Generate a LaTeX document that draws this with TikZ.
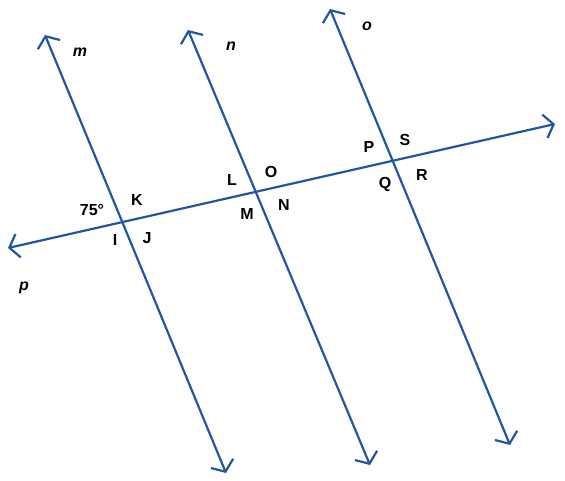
\documentclass[tikz,border=0pt]{standalone}
\usepackage{fontspec}
\setmainfont{Liberation Sans}
\usetikzlibrary{arrows.meta}
\definecolor{lineblue}{RGB}{34,86,160}
\tikzset{
  ray/.style={draw=lineblue,line width=2.2pt,line cap=round,
    {Straight Barb[length=9pt,width=24pt,line width=2.2pt]}-{Straight Barb[length=9pt,width=24pt,line width=2.2pt]}},
  lbl/.style={font=\fontsize{16}{18}\selectfont\bfseries,inner sep=0pt},
  lname/.style={font=\fontsize{16}{18}\selectfont\bfseries\itshape,inner sep=0pt}
}
\begin{document}
\begin{tikzpicture}[x=1pt,y=-1pt]
    \useasboundingbox (0,0) rectangle (565,480);
    % end points of the four lines
    \coordinate (mtop) at (45,35);
    \coordinate (mbot) at (226,473);
    \coordinate (ntop) at (188,30);
    \coordinate (nbot) at (370,465);
    \coordinate (otop) at (330,9);
    \coordinate (obot) at (510,445);
    \coordinate (pleft) at (8,248);
    \coordinate (pright) at (555,124);
    % the lines
    \draw[ray] (mtop) -- (mbot);
    \draw[ray] (ntop) -- (nbot);
    \draw[ray] (otop) -- (obot);
    \draw[ray] (pleft) -- (pright);
    % line names
    \node[lname] (mlab) at (80,52) {m};
    \node[lname] (nlab) at (231,46) {n};
    \node[lname] (olab) at (367,26) {o};
    \node[lname] (plab) at (24,288) {p};
    % angle labels
    \node[lbl] (ang) at (92,210) {75°};
    \node[lbl] (K) at (137,200) {K};
    \node[lbl] (I) at (115,240) {I};
    \node[lbl] (J) at (147,238) {J};
    \node[lbl] (L) at (232,180) {L};
    \node[lbl] (O) at (271,172) {O};
    \node[lbl] (M) at (247,214) {M};
    \node[lbl] (N) at (284,205) {N};
    \node[lbl] (P) at (369,147) {P};
    \node[lbl] (S) at (405,140) {S};
    \node[lbl] (Q) at (385,184) {Q};
    \node[lbl] (R) at (422,175) {R};
\end{tikzpicture}
\end{document}
